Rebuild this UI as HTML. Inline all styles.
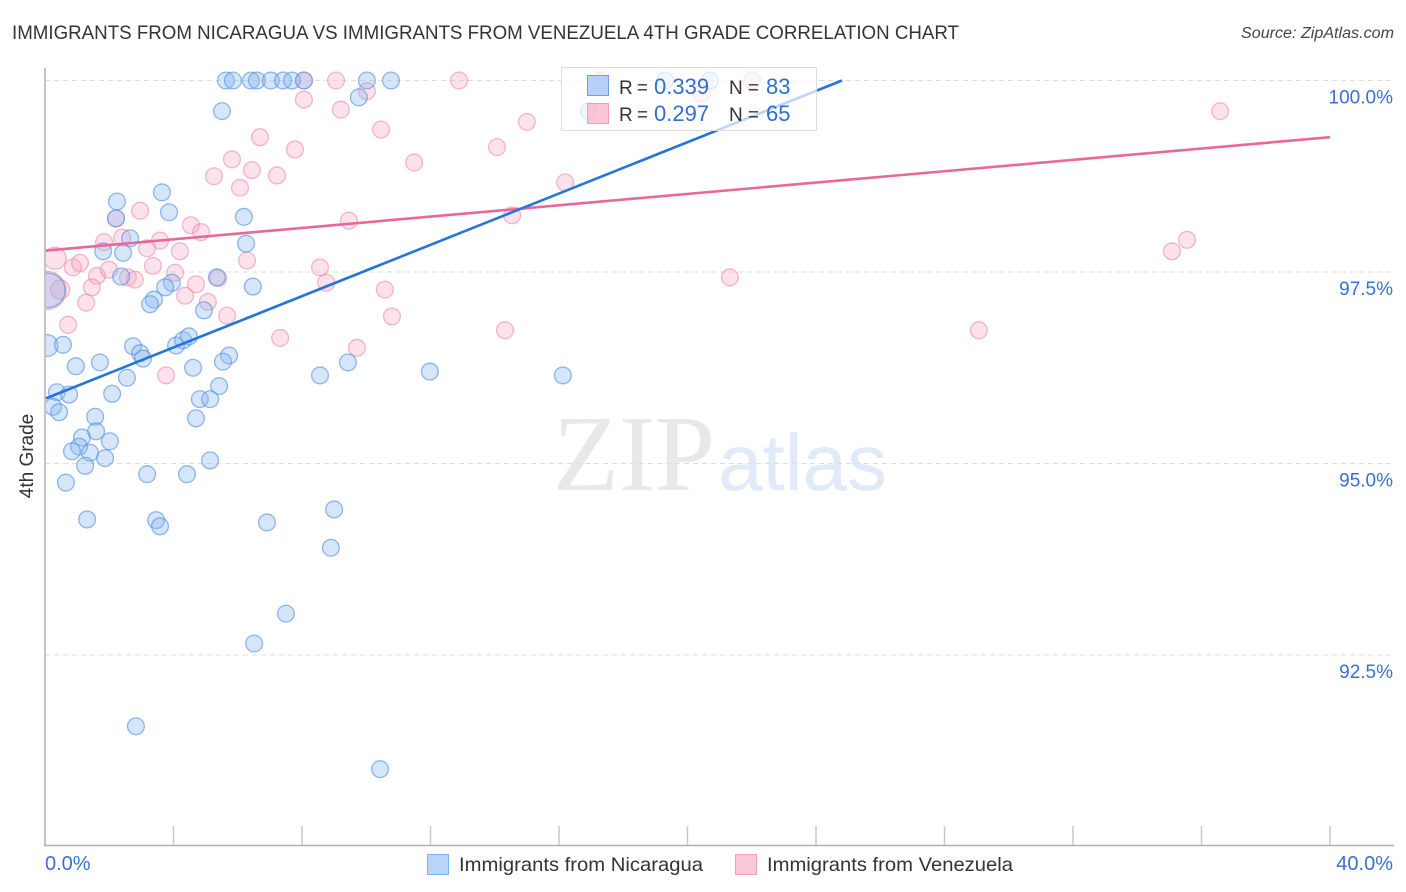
<!DOCTYPE html>
<html lang="en">
<head>
<meta charset="utf-8">
<title>Immigrants from Nicaragua vs Immigrants from Venezuela 4th Grade Correlation Chart</title>
<style>
html,body{margin:0;padding:0;background:#fff;}
body{width:1406px;height:892px;overflow:hidden;}
svg{display:block;font-family:"Liberation Sans",sans-serif;}
</style>
</head>
<body>
<svg id="chart" width="1406" height="892" viewBox="0 0 1406 892" xmlns="http://www.w3.org/2000/svg">
  <defs>
    <clipPath id="plot-clip"><rect x="46" y="60" width="1348" height="785"/></clipPath>
  </defs>
  <text x="12" y="39" font-size="19" fill="#333" textLength="947" lengthAdjust="spacingAndGlyphs">IMMIGRANTS FROM NICARAGUA VS IMMIGRANTS FROM VENEZUELA 4TH GRADE CORRELATION CHART</text>
  <text x="1241" y="38" font-size="15.5" font-style="italic" fill="#444" textLength="153" lengthAdjust="spacingAndGlyphs">Source: ZipAtlas.com</text>
  <g>
    <text x="553" y="490" font-size="108" fill="#e8e8e8" style="font-family:'Liberation Serif',serif">ZIP</text>
    <text x="718" y="490" font-size="80" fill="#e0eaf8" style="font-family:'Liberation Sans',sans-serif">atlas</text>
  </g>
  <g id="grid"></g>
  <g id="marks" clip-path="url(#plot-clip)"></g>
  <rect x="0" y="60" width="45.5" height="790" fill="#fff"/>
  <g id="axes"></g>
  <g id="trends"></g>
  <text transform="translate(33,456) rotate(-90)" font-size="19" fill="#333" text-anchor="middle">4th Grade</text>
  <g>
    <rect x="561.5" y="67.5" width="255" height="63" fill="#fff" fill-opacity="0.7" stroke="#dcdcdc" stroke-width="1"/>
    <rect x="587.5" y="75.5" width="21" height="20" fill="#8fbcf3" fill-opacity="0.65" stroke="#6a9fe3" stroke-width="1"/>
    <rect x="587.5" y="103.5" width="21" height="20" fill="#f9a9c3" fill-opacity="0.65" stroke="#f29ab8" stroke-width="1"/>
    <text x="619" y="94" font-size="19" fill="#333" textLength="29">R =</text>
    <text x="654" y="94" font-size="22" fill="#2f6fd0">0.339</text>
    <text x="729" y="94" font-size="19" fill="#333" textLength="30">N =</text>
    <text x="766" y="94" font-size="22" fill="#2f6fd0">83</text>
    <text x="619" y="121" font-size="19" fill="#333" textLength="29">R =</text>
    <text x="654" y="121" font-size="22" fill="#2f6fd0">0.297</text>
    <text x="729" y="121" font-size="19" fill="#333" textLength="30">N =</text>
    <text x="766" y="121" font-size="22" fill="#2f6fd0">65</text>
  </g>
  <g>
    <rect x="427.5" y="854.5" width="21" height="20" fill="#b8d4f8" stroke="#7fb0ee" stroke-width="1"/>
    <text x="459" y="871" font-size="19.5" fill="#333" textLength="244" lengthAdjust="spacingAndGlyphs">Immigrants from Nicaragua</text>
    <rect x="735.5" y="854.5" width="21" height="20" fill="#fcc7d8" stroke="#f3a3bf" stroke-width="1"/>
    <text x="767" y="871" font-size="19.5" fill="#333" textLength="246" lengthAdjust="spacingAndGlyphs">Immigrants from Venezuela</text>
  </g>
</svg>
<script>
const xTickValues = [0, 4, 8, 12, 16, 20, 24, 28, 32, 36, 40];
const xTickLabels = ["0.0%", "40.0%"];
const yTickValues = [100, 97.5, 95, 92.5];
const yTickLabels = ["100.0%", "97.5%", "95.0%", "92.5%"];

const nicaraguaX = [0.09,0.06,5.63,5.85,6.41,6.60,7.03,7.41,7.69,8.06,10.02,10.77,19.30,20.70,16.93,5.51,9.77,3.64,2.24,3.86,6.19,2.21,2.65,1.81,2.43,6.26,2.37,5.35,6.47,3.95,3.74,3.39,3.27,4.95,0.56,2.74,2.96,3.05,4.08,4.30,4.48,5.73,5.54,0.96,1.71,2.55,4.61,5.42,0.37,0.75,2.09,4.82,5.14,4.70,1.56,1.59,1.15,2.02,1.06,0.84,1.40,1.87,1.25,5.14,3.18,4.42,0.65,1.31,3.46,3.58,6.91,0.25,0.44,9.43,8.56,11.98,16.12,9.00,8.90,7.50,6.51,2.83,10.43];
const nicaraguaY = [97.26,96.54,100,100,100,100,100,100,100,100,100,100,100,100,99.60,99.60,99.78,98.54,98.42,98.28,98.22,98.20,97.94,97.77,97.75,97.87,97.44,97.43,97.31,97.36,97.30,97.14,97.08,97.00,96.55,96.53,96.44,96.37,96.54,96.61,96.66,96.41,96.33,96.27,96.32,96.12,96.25,96.01,95.93,95.90,95.91,95.84,95.84,95.59,95.61,95.42,95.34,95.29,95.22,95.16,95.14,95.07,94.97,95.04,94.86,94.86,94.75,94.27,94.26,94.18,94.23,95.74,95.67,96.32,96.15,96.20,96.15,94.40,93.90,93.04,92.65,91.57,91.01];
const nicaraguaWeight = [4.2,1.7];

const venezuelaX = [0.06,0.31,0.47,8.06,9.06,12.89,17.28,22.01,20.45,8.06,10.02,9.21,15.00,10.46,14.07,11.49,6.69,7.78,5.82,6.44,5.26,7.22,6.07,16.19,2.96,2.21,4.54,4.86,9.46,14.54,2.40,3.58,1.84,3.18,4.20,0.87,1.09,1.62,1.99,1.46,1.28,0.72,2.58,2.80,3.36,4.05,4.70,4.36,5.07,5.39,6.29,5.67,3.77,7.32,8.56,8.75,10.58,10.80,14.32,9.71,36.58,35.55,35.08,21.32,29.07];
const venezuelaY = [97.26,97.68,97.27,100,100,100,100,100,99.83,99.75,99.86,99.62,99.46,99.36,99.13,98.93,99.26,99.10,98.97,98.83,98.75,98.76,98.60,98.67,98.30,98.20,98.11,98.02,98.17,98.24,97.95,97.91,97.89,97.81,97.77,97.56,97.62,97.45,97.53,97.30,97.10,96.81,97.43,97.40,97.58,97.49,97.34,97.19,97.11,97.42,97.65,96.93,96.15,96.64,97.56,97.36,97.27,96.92,96.74,96.51,99.60,97.92,97.77,97.43,96.74];
const venezuelaWeight = [5.2,1.75,1.3];

const nicaraguaTrendX = [0.03, 24.81];
const nicaraguaTrendY = [95.85, 100];
const venezuelaTrendX = [0.03, 40];
const venezuelaTrendY = [97.78, 99.26];

const NS = 'http://www.w3.org/2000/svg';
function xScale(v) { return 45 + v * 32.125; }
function yScale(v) { return 80.5 + (100 - v) * 76.6; }
function radius(weight) { return 8.4 * Math.sqrt(weight === undefined ? 1 : weight); }
function make(tag, attrs, parent) {
  const el = document.createElementNS(NS, tag);
  for (const k in attrs) el.setAttribute(k, attrs[k]);
  parent.appendChild(el);
  return el;
}

const gridG = document.getElementById('grid');
yTickValues.forEach(function (v, i) {
  const line = make('line', { x1: 45, x2: 1394, y1: yScale(v), y2: yScale(v), stroke: '#dddddd', 'stroke-width': 1, 'stroke-dasharray': '5 4' }, gridG);
  
  
  const label = make('text', { x: 1393, y: yScale(v) + 23, 'font-size': 19, fill: '#3a70d2', 'text-anchor': 'end' }, gridG);
  label.textContent = yTickLabels[i];
  
  
});

const axesG = document.getElementById('axes');
const yAxis = make('line', { x1: 45, x2: 45, y1: 68, y2: 846, stroke: '#b0b0b0', 'stroke-width': 1.5 }, axesG);


const xAxis = make('line', { x1: 44, x2: 1394, y1: 845.5, y2: 845.5, stroke: '#b0b0b0', 'stroke-width': 1.5 }, axesG);


xTickValues.forEach(function (v) {
  if (v === 0) return;
  const tick = make('line', { x1: xScale(v), x2: xScale(v), y1: 826, y2: 845, stroke: '#c8c8c8', 'stroke-width': 1.5 }, axesG);
  
  
});
const xFirst = make('text', { x: xScale(xTickValues[0]), y: 870, 'font-size': 20, fill: '#3a70d2' }, axesG);
xFirst.textContent = xTickLabels[0];


const xLast = make('text', { x: 1393, y: 870, 'font-size': 20, fill: '#3a70d2', 'text-anchor': 'end' }, axesG);
xLast.textContent = xTickLabels[1];



const marksG = document.getElementById('marks');
venezuelaX.forEach(function (v, i) {
  const c = make('circle', { cx: xScale(v), cy: yScale(venezuelaY[i]), r: radius(venezuelaWeight[i]), fill: '#f8a5c0', 'fill-opacity': 0.32, stroke: '#ee88a9', 'stroke-opacity': 0.6, 'stroke-width': 1.3 }, marksG);
  
  
});
nicaraguaX.forEach(function (v, i) {
  const c = make('circle', { cx: xScale(v), cy: yScale(nicaraguaY[i]), r: radius(nicaraguaWeight[i]), fill: '#8ab8f2', 'fill-opacity': 0.36, stroke: '#4f8fe0', 'stroke-opacity': 0.62, 'stroke-width': 1.3 }, marksG);
  
  
});

const trendsG = document.getElementById('trends');
const venezuelaLine = make('line', { x1: xScale(venezuelaTrendX[0]), y1: yScale(venezuelaTrendY[0]), x2: xScale(venezuelaTrendX[1]), y2: yScale(venezuelaTrendY[1]), stroke: '#e8689a', 'stroke-width': 2.6 }, trendsG);


const nicaraguaLine = make('line', { x1: xScale(nicaraguaTrendX[0]), y1: yScale(nicaraguaTrendY[0]), x2: xScale(nicaraguaTrendX[1]), y2: yScale(nicaraguaTrendY[1]), stroke: '#2574dc', 'stroke-width': 2.6 }, trendsG);


</script>
</body>
</html>
